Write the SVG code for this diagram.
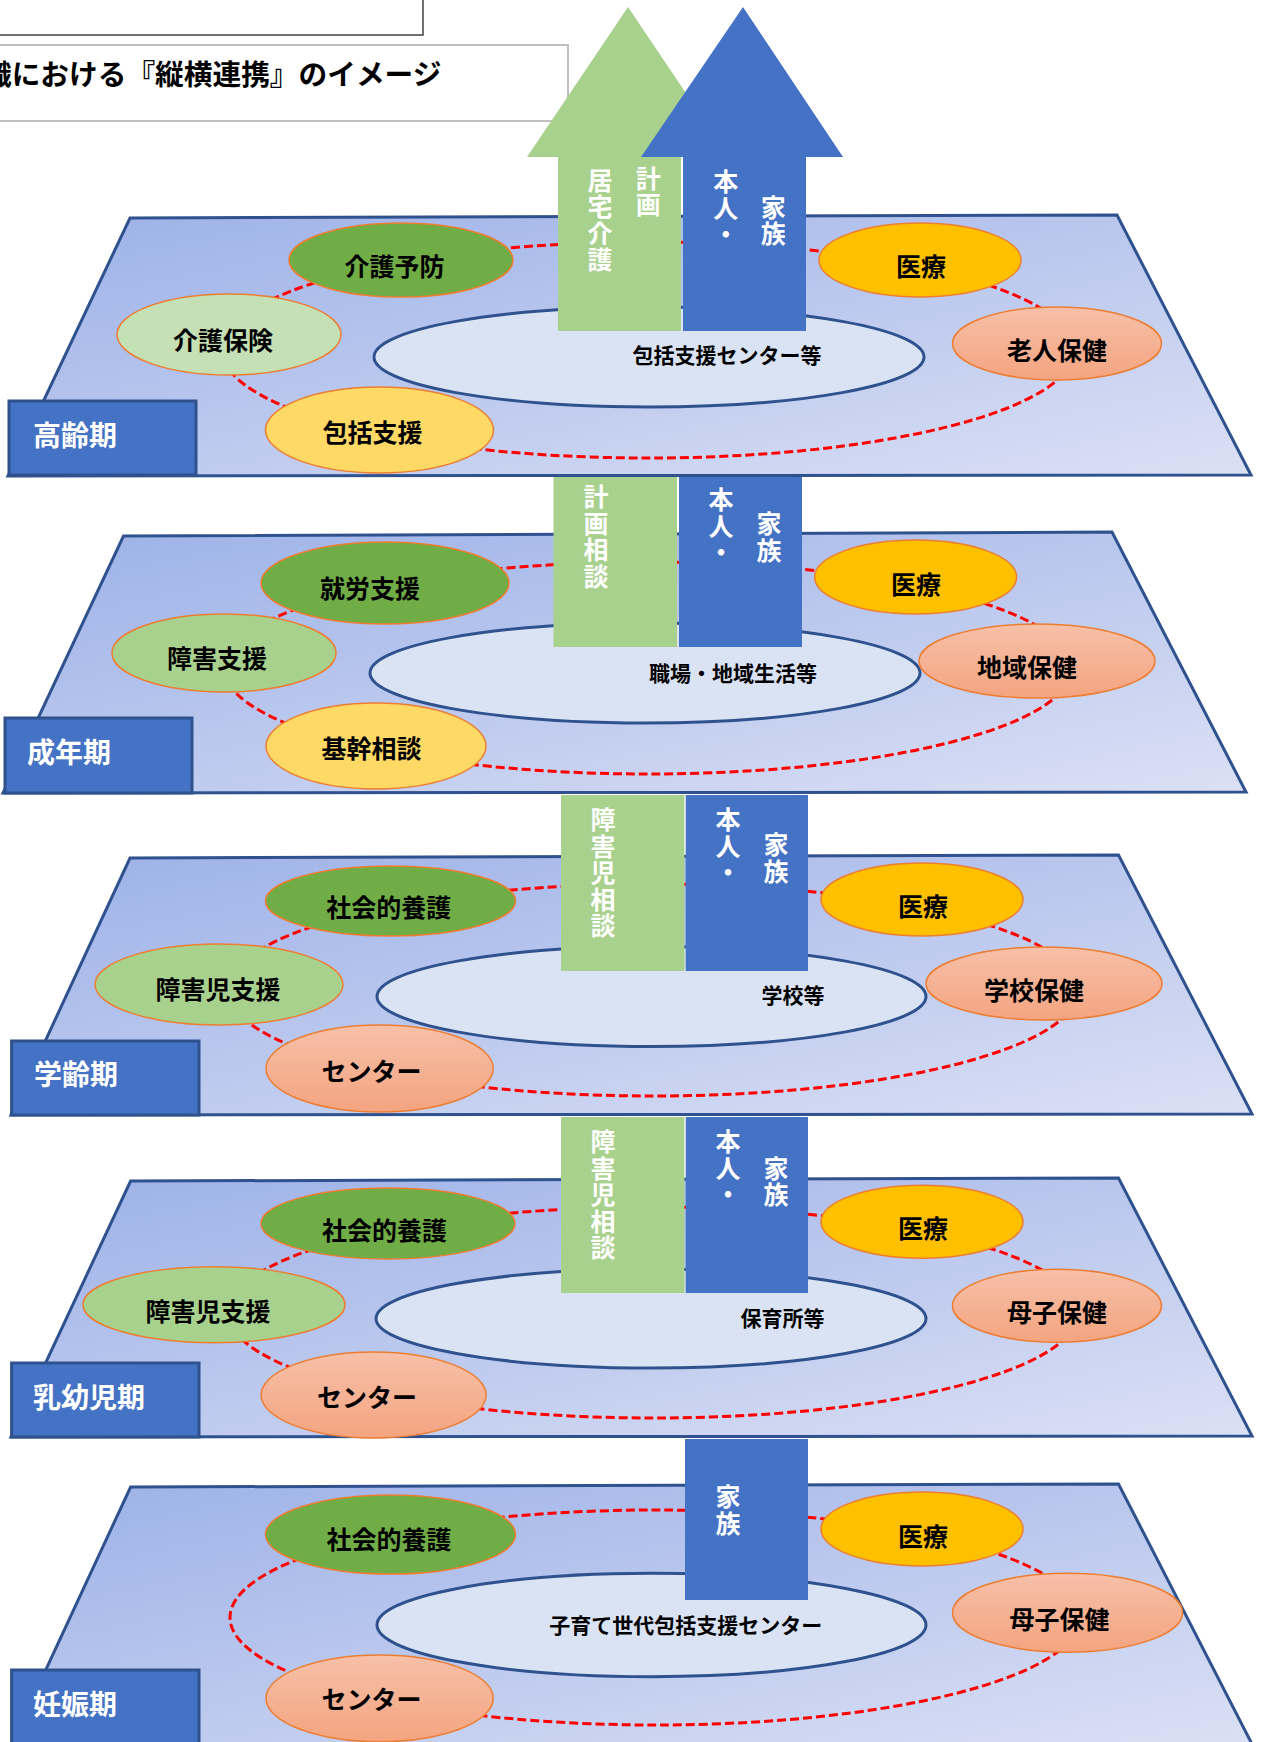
<svg xmlns="http://www.w3.org/2000/svg" width="1262" height="1742" viewBox="0 0 1262 1742">
<defs>
<linearGradient id="gLayer" x1="0" y1="0" x2="1" y2="1">
<stop offset="0" stop-color="#9cb1e8"/>
<stop offset="1" stop-color="#dbe0f4"/>
</linearGradient>
<linearGradient id="gSalmon" x1="0" y1="0" x2="0" y2="1">
<stop offset="0" stop-color="#f6c0a8"/>
<stop offset="1" stop-color="#f4a480"/>
</linearGradient>
</defs>
<style>
.layer{fill:url(#gLayer);stroke:#2f528f;stroke-width:3}
.conn{fill:none;stroke:#ff0000;stroke-width:3;stroke-dasharray:9 4}
.ctr{fill:#dae3f3;stroke:#2f528f;stroke-width:3}
.sat{stroke:#ed7d31;stroke-width:1.5}
.dg{fill:#70ad47}.lg{fill:#c5e0b4}.mg{fill:#a9d18e}.yl{fill:#ffd966}.or{fill:#ffc000}.sa{fill:url(#gSalmon)}
.gbar{fill:#a9d18e}.bbar{fill:#4472c4}
.lbox{fill:#4472c4;stroke:#2f528f;stroke-width:3}
text{font-family:"Noto Sans CJK JP","Noto Sans CJK SC",sans-serif;font-weight:700}
.st{font-size:25px;fill:#000;text-anchor:middle}
.ct{font-size:21px;fill:#000;text-anchor:middle}
.vt{font-size:25px;fill:#fff;writing-mode:vertical-rl;letter-spacing:1.5px}
.lt{font-size:28px;fill:#fff}
.tt{font-size:28.7px;fill:#000}
</style>

<g id="title-box-1"><rect x="-5" y="-5" width="428" height="40" fill="#fff" stroke="#404040" stroke-width="1.5"/></g>
<g id="title-box-2"><rect x="-5" y="45" width="573" height="76" fill="#fff" stroke="#bfbfbf" stroke-width="2"/>
<text class="tt" x="-17" y="85">織における『縦横連携』のイメージ</text></g>

<g id="layers">
<polygon class="layer" points="130,218 1117,215 1251,475 8,476"/>
<polygon class="layer" points="123.5,536 1112,532 1246,792 3,793"/>
<polygon class="layer" points="130,858 1118.5,855 1252,1114 11,1115"/>
<polygon class="layer" points="130.6,1181 1118.5,1178 1252,1436 11,1437"/>
<polygon class="layer" points="130.6,1487 1118.5,1484 1253,1746 10,1747"/>
</g>

<g id="connectors">
<ellipse class="conn" cx="648" cy="350" rx="426" ry="108"/>
<ellipse class="conn" cx="648" cy="668" rx="424" ry="106"/>
<ellipse class="conn" cx="653" cy="990" rx="425" ry="106"/>
<ellipse class="conn" cx="653" cy="1312.5" rx="425" ry="105.5"/>
<ellipse class="conn" cx="655" cy="1617.5" rx="425" ry="107.5"/>
</g>

<!-- Layer 1 -->
<g id="n1-center"><ellipse class="ctr" cx="649" cy="357" rx="275" ry="50"/><text class="ct" x="727" y="363">包括支援センター等</text></g>
<g id="n1-kaigoyobo"><ellipse class="sat dg" cx="401" cy="260" rx="112" ry="37"/><text class="st" x="394.5" y="275.5">介護予防</text></g>
<g id="n1-kaigohoken"><ellipse class="sat lg" cx="229" cy="334.5" rx="112" ry="40.5"/><text class="st" x="223" y="349.5">介護保険</text></g>
<g id="n1-houkatsu"><ellipse class="sat yl" cx="379.5" cy="430" rx="114" ry="43"/><text class="st" x="372.5" y="441.5">包括支援</text></g>
<g id="n1-iryo"><ellipse class="sat or" cx="920" cy="260" rx="101" ry="37"/><text class="st" x="921" y="276">医療</text></g>
<g id="n1-roujin"><ellipse class="sat sa" cx="1057" cy="343.5" rx="104.5" ry="36.5"/><text class="st" x="1057" y="359.5">老人保健</text></g>
<g id="n1-arrow-green"><polygon class="gbar" points="628,7 729,157 681,157 681,331 558,331 558,157 527,157"/>
<text class="vt" x="600" y="167.5">居宅介護</text><text class="vt" x="648.3" y="165.5">計画</text></g>
<g id="n1-arrow-blue"><polygon class="bbar" points="743,7 843,157 806,157 806,331 683,331 683,157 641,157"/>
<text class="vt" x="725.7" y="169">本人・</text><text class="vt" x="773.3" y="194.5">家族</text></g>
<g id="n1-label"><rect class="lbox" x="9" y="401" width="187" height="74"/><text class="lt" x="33" y="446">高齢期</text></g>

<!-- Layer 2 -->
<g id="n2-center"><ellipse class="ctr" cx="645" cy="673" rx="275" ry="50"/><text class="ct" x="733" y="681">職場・地域生活等</text></g>
<g id="n2-shurou"><ellipse class="sat dg" cx="385" cy="583" rx="124" ry="41"/><text class="st" x="370" y="597.5">就労支援</text></g>
<g id="n2-shougai"><ellipse class="sat mg" cx="224" cy="653" rx="112" ry="39"/><text class="st" x="217" y="667.5">障害支援</text></g>
<g id="n2-kikan"><ellipse class="sat yl" cx="376" cy="746" rx="110" ry="43"/><text class="st" x="371.5" y="757.5">基幹相談</text></g>
<g id="n2-iryo"><ellipse class="sat or" cx="915.6" cy="577" rx="101" ry="37"/><text class="st" x="916" y="593.5">医療</text></g>
<g id="n2-chiiki"><ellipse class="sat sa" cx="1037" cy="661" rx="118" ry="37"/><text class="st" x="1027" y="676.5">地域保健</text></g>
<g id="n2-bar-green"><rect class="gbar" x="553.5" y="477" width="123.5" height="170"/>
<text class="vt" x="596" y="484">計画相談</text></g>
<g id="n2-bar-blue"><rect class="bbar" x="679" y="477" width="123" height="170"/>
<text class="vt" x="721" y="487">本人・</text><text class="vt" x="769" y="511">家族</text></g>
<g id="n2-label"><rect class="lbox" x="5" y="718" width="187" height="75"/><text class="lt" x="27" y="763">成年期</text></g>

<!-- Layer 3 -->
<g id="n3-center"><ellipse class="ctr" cx="651.5" cy="996.5" rx="274.5" ry="50"/><text class="ct" x="793" y="1003">学校等</text></g>
<g id="n3-shakai"><ellipse class="sat dg" cx="390.5" cy="901" rx="125" ry="35"/><text class="st" x="388.7" y="916.5">社会的養護</text></g>
<g id="n3-shougaiji"><ellipse class="sat mg" cx="219" cy="984.5" rx="124" ry="40.5"/><text class="st" x="218" y="998.5">障害児支援</text></g>
<g id="n3-center-s"><ellipse class="sat sa" cx="379.6" cy="1068.5" rx="113.6" ry="43.5"/><text class="st" x="371.5" y="1080.5">センター</text></g>
<g id="n3-iryo"><ellipse class="sat or" cx="922" cy="899.5" rx="101" ry="36.5"/><text class="st" x="923" y="915.5">医療</text></g>
<g id="n3-gakkou"><ellipse class="sat sa" cx="1044" cy="983.5" rx="118" ry="36.5"/><text class="st" x="1034" y="999.5">学校保健</text></g>
<g id="n3-bar-green"><rect class="gbar" x="561" y="795" width="123.4" height="176"/>
<text class="vt" x="603" y="807">障害児相談</text></g>
<g id="n3-bar-blue"><rect class="bbar" x="685.7" y="795" width="122.3" height="176"/>
<text class="vt" x="728" y="807">本人・</text><text class="vt" x="776" y="832">家族</text></g>
<g id="n3-label"><rect class="lbox" x="11.6" y="1041" width="187.4" height="74"/><text class="lt" x="34" y="1085">学齢期</text></g>

<!-- Layer 4 -->
<g id="n4-center"><ellipse class="ctr" cx="651" cy="1318.5" rx="275" ry="49.5"/><text class="ct" x="782.6" y="1325.5">保育所等</text></g>
<g id="n4-shakai"><ellipse class="sat dg" cx="388" cy="1223.5" rx="127" ry="35.5"/><text class="st" x="384.5" y="1239.5">社会的養護</text></g>
<g id="n4-shougaiji"><ellipse class="sat mg" cx="214" cy="1304.7" rx="131" ry="38"/><text class="st" x="208" y="1320.5">障害児支援</text></g>
<g id="n4-center-s"><ellipse class="sat sa" cx="373.6" cy="1395" rx="112.5" ry="43"/><text class="st" x="367" y="1406.5">センター</text></g>
<g id="n4-iryo"><ellipse class="sat or" cx="922" cy="1221.7" rx="101" ry="36.5"/><text class="st" x="923" y="1237.5">医療</text></g>
<g id="n4-boshi"><ellipse class="sat sa" cx="1057" cy="1305.7" rx="104.5" ry="36.5"/><text class="st" x="1057" y="1321.5">母子保健</text></g>
<g id="n4-bar-green"><rect class="gbar" x="561" y="1117" width="123.4" height="176"/>
<text class="vt" x="603" y="1129">障害児相談</text></g>
<g id="n4-bar-blue"><rect class="bbar" x="685.7" y="1117" width="122.3" height="176"/>
<text class="vt" x="728" y="1129">本人・</text><text class="vt" x="776" y="1155.5">家族</text></g>
<g id="n4-label"><rect class="lbox" x="11.6" y="1363" width="187.4" height="74"/><text class="lt" x="33" y="1408">乳幼児期</text></g>

<!-- Layer 5 -->
<g id="n5-center"><ellipse class="ctr" cx="651.5" cy="1625" rx="274.5" ry="51.7"/><text class="ct" x="685.7" y="1633">子育て世代包括支援センター</text></g>
<g id="n5-shakai"><ellipse class="sat dg" cx="390.5" cy="1534.5" rx="125" ry="39.5"/><text class="st" x="389" y="1548.5">社会的養護</text></g>
<g id="n5-center-s"><ellipse class="sat sa" cx="379.6" cy="1698.3" rx="113.6" ry="43.4"/><text class="st" x="371.5" y="1708.5">センター</text></g>
<g id="n5-iryo"><ellipse class="sat or" cx="922" cy="1529" rx="101" ry="37"/><text class="st" x="923" y="1546">医療</text></g>
<g id="n5-boshi"><ellipse class="sat sa" cx="1067.5" cy="1612.7" rx="115" ry="39.5"/><text class="st" x="1059.5" y="1628.5">母子保健</text></g>
<g id="n5-bar-blue"><rect class="bbar" x="685" y="1439" width="123" height="161"/>
<text class="vt" x="728" y="1484">家族</text></g>
<g id="n5-label"><rect class="lbox" x="11.6" y="1670" width="187.4" height="80"/><text class="lt" x="33" y="1714.5">妊娠期</text></g>
</svg>
